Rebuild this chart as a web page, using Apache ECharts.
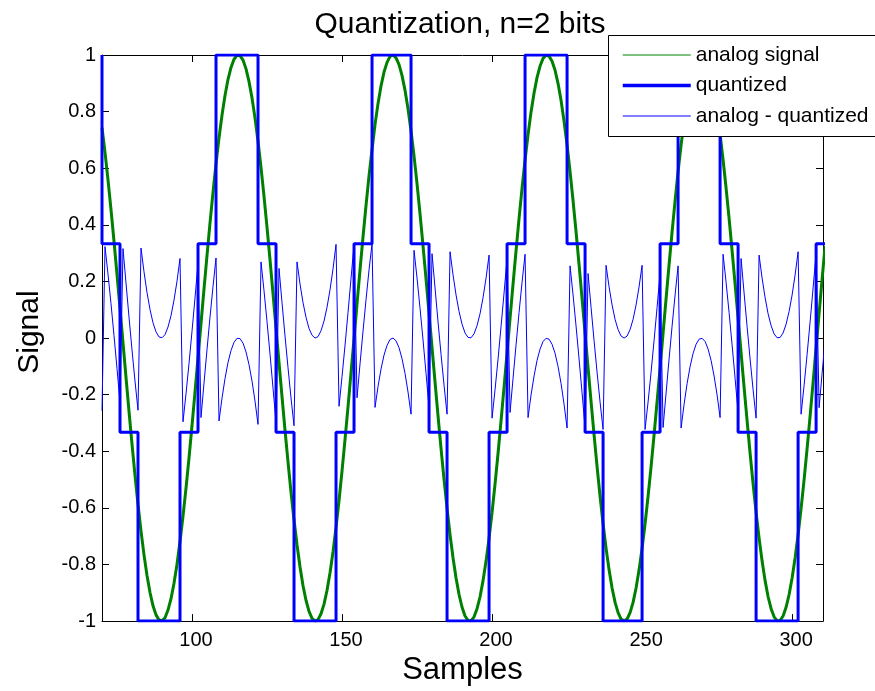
<!DOCTYPE html>
<html>
<head>
<meta charset="utf-8">
<title>Quantization, n=2 bits</title>
<script src="https://cdn.jsdelivr.net/npm/echarts@6/dist/echarts.min.js"></script>
<style>
  html, body { margin: 0; padding: 0; background: #fff; }
  #chart { width: 875px; height: 691px; }
</style>
</head>
<body>
<div id="chart"></div>
<script>
// Sample indices on the horizontal axis
const samples = [
  70, 71, 72, 73, 74, 75, 76, 77, 78, 79,
  80, 81, 82, 83, 84, 85, 86, 87, 88, 89,
  90, 91, 92, 93, 94, 95, 96, 97, 98, 99,
  100, 101, 102, 103, 104, 105, 106, 107, 108, 109,
  110, 111, 112, 113, 114, 115, 116, 117, 118, 119,
  120, 121, 122, 123, 124, 125, 126, 127, 128, 129,
  130, 131, 132, 133, 134, 135, 136, 137, 138, 139,
  140, 141, 142, 143, 144, 145, 146, 147, 148, 149,
  150, 151, 152, 153, 154, 155, 156, 157, 158, 159,
  160, 161, 162, 163, 164, 165, 166, 167, 168, 169,
  170, 171, 172, 173, 174, 175, 176, 177, 178, 179,
  180, 181, 182, 183, 184, 185, 186, 187, 188, 189,
  190, 191, 192, 193, 194, 195, 196, 197, 198, 199,
  200, 201, 202, 203, 204, 205, 206, 207, 208, 209,
  210, 211, 212, 213, 214, 215, 216, 217, 218, 219,
  220, 221, 222, 223, 224, 225, 226, 227, 228, 229,
  230, 231, 232, 233, 234, 235, 236, 237, 238, 239,
  240, 241, 242, 243, 244, 245, 246, 247, 248, 249,
  250, 251, 252, 253, 254, 255, 256, 257, 258, 259,
  260, 261, 262, 263, 264, 265, 266, 267, 268, 269,
  270, 271, 272, 273, 274, 275, 276, 277, 278, 279,
  280, 281, 282, 283, 284, 285, 286, 287, 288, 289,
  290, 291, 292, 293, 294, 295, 296, 297, 298, 299,
  300, 301, 302, 303, 304, 305, 306, 307, 308, 309,
  310, 311
];

// Analog signal value at each sample
const analog = [
  0.743, 0.656, 0.559, 0.454, 0.342, 0.225, 0.105, -0.017, -0.139, -0.259,
  -0.375, -0.485, -0.588, -0.682, -0.766, -0.839, -0.899, -0.946, -0.978, -0.996,
  -0.999, -0.988, -0.961, -0.921, -0.866, -0.799, -0.719, -0.629, -0.530, -0.423,
  -0.309, -0.191, -0.070, 0.052, 0.174, 0.292, 0.407, 0.515, 0.616, 0.707,
  0.788, 0.857, 0.914, 0.956, 0.985, 0.999, 0.998, 0.982, 0.951, 0.906,
  0.848, 0.777, 0.695, 0.602, 0.500, 0.391, 0.276, 0.156, 0.035, -0.087,
  -0.208, -0.326, -0.438, -0.545, -0.643, -0.731, -0.809, -0.875, -0.927, -0.966,
  -0.990, -1.000, -0.995, -0.974, -0.940, -0.891, -0.829, -0.755, -0.669, -0.574,
  -0.469, -0.358, -0.242, -0.122, -0.003, 0.122, 0.242, 0.358, 0.469, 0.574,
  0.666, 0.755, 0.829, 0.891, 0.940, 0.974, 0.995, 1.000, 0.990, 0.966,
  0.927, 0.875, 0.809, 0.731, 0.643, 0.545, 0.438, 0.326, 0.208, 0.087,
  -0.035, -0.156, -0.276, -0.391, -0.500, -0.602, -0.695, -0.777, -0.848, -0.906,
  -0.951, -0.982, -0.998, -0.999, -0.985, -0.956, -0.914, -0.857, -0.788, -0.707,
  -0.616, -0.515, -0.407, -0.292, -0.174, -0.052, 0.070, 0.191, 0.309, 0.423,
  0.530, 0.629, 0.719, 0.799, 0.866, 0.921, 0.961, 0.988, 0.999, 0.996,
  0.978, 0.946, 0.899, 0.839, 0.766, 0.682, 0.588, 0.485, 0.375, 0.259,
  0.139, 0.017, -0.105, -0.225, -0.342, -0.454, -0.559, -0.656, -0.743, -0.819,
  -0.883, -0.934, -0.970, -0.993, -1.000, -0.993, -0.970, -0.934, -0.883, -0.819,
  -0.743, -0.656, -0.559, -0.454, -0.342, -0.225, -0.105, 0.017, 0.139, 0.259,
  0.375, 0.485, 0.588, 0.682, 0.766, 0.839, 0.899, 0.946, 0.978, 0.996,
  0.999, 0.988, 0.961, 0.921, 0.866, 0.799, 0.719, 0.629, 0.530, 0.423,
  0.309, 0.191, 0.070, -0.052, -0.174, -0.292, -0.407, -0.515, -0.616, -0.707,
  -0.788, -0.857, -0.914, -0.956, -0.985, -0.999, -0.998, -0.982, -0.951, -0.906,
  -0.848, -0.777, -0.695, -0.602, -0.500, -0.391, -0.276, -0.156, -0.035, 0.087,
  0.208, 0.326
];

// 2-bit quantizer output (levels -1, -1/3, 1/3, 1)
const quantized = [
  1, 0.333, 0.333, 0.333, 0.333, 0.333, 0.333, -0.333, -0.333, -0.333,
  -0.333, -0.333, -0.333, -1, -1, -1, -1, -1, -1, -1,
  -1, -1, -1, -1, -1, -1, -1, -0.333, -0.333, -0.333,
  -0.333, -0.333, -0.333, 0.333, 0.333, 0.333, 0.333, 0.333, 0.333, 1,
  1, 1, 1, 1, 1, 1, 1, 1, 1, 1,
  1, 1, 1, 0.333, 0.333, 0.333, 0.333, 0.333, 0.333, -0.333,
  -0.333, -0.333, -0.333, -0.333, -0.333, -1, -1, -1, -1, -1,
  -1, -1, -1, -1, -1, -1, -1, -1, -1, -0.333,
  -0.333, -0.333, -0.333, -0.333, -0.333, 0.333, 0.333, 0.333, 0.333, 0.333,
  0.333, 1, 1, 1, 1, 1, 1, 1, 1, 1,
  1, 1, 1, 1, 0.333, 0.333, 0.333, 0.333, 0.333, 0.333,
  -0.333, -0.333, -0.333, -0.333, -0.333, -0.333, -1, -1, -1, -1,
  -1, -1, -1, -1, -1, -1, -1, -1, -1, -1,
  -0.333, -0.333, -0.333, -0.333, -0.333, -0.333, 0.333, 0.333, 0.333, 0.333,
  0.333, 0.333, 1, 1, 1, 1, 1, 1, 1, 1,
  1, 1, 1, 1, 1, 1, 0.333, 0.333, 0.333, 0.333,
  0.333, 0.333, -0.333, -0.333, -0.333, -0.333, -0.333, -0.333, -1, -1,
  -1, -1, -1, -1, -1, -1, -1, -1, -1, -1,
  -1, -0.333, -0.333, -0.333, -0.333, -0.333, -0.333, 0.333, 0.333, 0.333,
  0.333, 0.333, 0.333, 1, 1, 1, 1, 1, 1, 1,
  1, 1, 1, 1, 1, 1, 1, 0.333, 0.333, 0.333,
  0.333, 0.333, 0.333, -0.333, -0.333, -0.333, -0.333, -0.333, -0.333, -1,
  -1, -1, -1, -1, -1, -1, -1, -1, -1, -1,
  -1, -1, -1, -0.333, -0.333, -0.333, -0.333, -0.333, -0.333, 0.333,
  0.333, 0.333
];

// Quantization error (analog - quantized) at each sample
const quantError = [
  -0.257, 0.323, 0.226, 0.121, 0.009, -0.108, -0.228, 0.316, 0.194, 0.074,
  -0.042, -0.152, -0.255, 0.318, 0.234, 0.161, 0.101, 0.054, 0.022, 0.004,
  0.001, 0.012, 0.039, 0.079, 0.134, 0.201, 0.281, -0.296, -0.197, -0.090,
  0.024, 0.142, 0.263, -0.281, -0.159, -0.041, 0.074, 0.182, 0.283, -0.293,
  -0.212, -0.143, -0.086, -0.044, -0.015, -0.001, -0.002, -0.018, -0.049, -0.094,
  -0.152, -0.223, -0.305, 0.269, 0.167, 0.058, -0.057, -0.177, -0.298, 0.246,
  0.125, 0.007, -0.105, -0.212, -0.310, 0.269, 0.191, 0.125, 0.073, 0.034,
  0.010, 0.000, 0.005, 0.026, 0.060, 0.109, 0.171, 0.245, 0.331, -0.241,
  -0.136, -0.025, 0.091, 0.211, 0.330, -0.211, -0.091, 0.025, 0.136, 0.241,
  0.333, -0.245, -0.171, -0.109, -0.060, -0.026, -0.005, 0.000, -0.010, -0.034,
  -0.073, -0.125, -0.191, -0.269, 0.310, 0.212, 0.105, -0.007, -0.125, -0.246,
  0.298, 0.177, 0.057, -0.058, -0.167, -0.269, 0.305, 0.223, 0.152, 0.094,
  0.049, 0.018, 0.002, 0.001, 0.015, 0.044, 0.086, 0.143, 0.212, 0.293,
  -0.283, -0.182, -0.074, 0.041, 0.159, 0.281, -0.263, -0.142, -0.024, 0.090,
  0.197, 0.296, -0.281, -0.201, -0.134, -0.079, -0.039, -0.012, -0.001, -0.004,
  -0.022, -0.054, -0.101, -0.161, -0.234, -0.318, 0.255, 0.152, 0.042, -0.074,
  -0.194, -0.316, 0.228, 0.108, -0.009, -0.121, -0.226, -0.323, 0.257, 0.181,
  0.117, 0.066, 0.030, 0.007, 0.000, 0.007, 0.030, 0.066, 0.117, 0.181,
  0.257, -0.323, -0.226, -0.121, -0.009, 0.108, 0.228, -0.316, -0.194, -0.074,
  0.042, 0.152, 0.255, -0.318, -0.234, -0.161, -0.101, -0.054, -0.022, -0.004,
  -0.001, -0.012, -0.039, -0.079, -0.134, -0.201, -0.281, 0.296, 0.197, 0.090,
  -0.024, -0.142, -0.263, 0.281, 0.159, 0.041, -0.074, -0.182, -0.283, 0.293,
  0.212, 0.143, 0.086, 0.044, 0.015, 0.001, 0.002, 0.018, 0.049, 0.094,
  0.152, 0.223, 0.305, -0.269, -0.167, -0.058, 0.057, 0.177, 0.298, -0.246,
  -0.125, -0.007
];

// Axis tick positions
const xTicks = [100, 150, 200, 250, 300];
const yTicks = [-1, -0.8, -0.6, -0.4, -0.2, 0, 0.2, 0.4, 0.6, 0.8, 1];

const FONT = '"Liberation Sans", Arial, Helvetica, sans-serif';
const pairs = (ys) => samples.map((x, i) => [x, ys[i]]);

const frameAxis = {
  axisLine: { show: true, onZero: false, lineStyle: { color: '#000', width: 1 } },
  splitLine: { show: false }
};

const chart = echarts.init(document.getElementById('chart'), null, { renderer: 'canvas' });

chart.setOption({
  animation: false,
  backgroundColor: '#fff',
  title: {
    text: 'Quantization, n=2 bits',
    left: 455,
    top: 5,
    textAlign: 'center',
    textStyle: { fontFamily: FONT, fontSize: 30, fontWeight: 'normal', color: '#000' }
  },
  grid: { left: 102, right: 52, top: 55, bottom: 68 },
  // Legend frame: runs off the right edge of the figure
  graphic: [{
    type: 'rect', z: 9, silent: true,
    shape: { x: 608.5, y: 35.5, width: 320, height: 101 },
    style: { fill: '#fff', stroke: '#000', lineWidth: 1 }
  }],
  legend: {
    z: 10,
    orient: 'vertical',
    left: 608,
    top: 35,
    itemWidth: 68,
    itemHeight: 14,
    itemGap: 9.5,
    padding: [9.5, 20, 10.5, 13],
    selectedMode: false,
    itemStyle: { opacity: 0 },
    textStyle: { fontFamily: FONT, fontSize: 21, color: '#000', lineHeight: 21 },
    data: [
      { name: 'analog signal', lineStyle: { color: '#008000', width: 1 } },
      { name: 'quantized', lineStyle: { color: '#0000ff', width: 3.5 } },
      { name: 'analog - quantized', lineStyle: { color: '#0000ff', width: 1 } }
    ]
  },
  xAxis: [
    Object.assign({}, frameAxis, {
      type: 'value', position: 'bottom', min: 70, max: 310.3,
      axisTick: { show: true, inside: true, length: 7, customValues: xTicks, lineStyle: { color: '#000' } },
      axisLabel: { show: true, customValues: xTicks, margin: 9, padding: [0, 0, 0, 8],
                   fontFamily: FONT, fontSize: 20, color: '#000' },
      name: 'Samples', nameLocation: 'middle', nameGap: 30,
      nameTextStyle: { fontFamily: FONT, fontSize: 31, color: '#000' }
    }),
    Object.assign({}, frameAxis, {
      type: 'value', position: 'top', min: 70, max: 310.3,
      axisTick: { show: true, inside: true, length: 7, customValues: xTicks, lineStyle: { color: '#000' } },
      axisLabel: { show: false }
    })
  ],
  yAxis: [
    Object.assign({}, frameAxis, {
      type: 'value', position: 'left', min: -1, max: 1, interval: 0.2,
      axisTick: { show: true, inside: true, length: 7, lineStyle: { color: '#000' } },
      axisLabel: { show: true, customValues: yTicks, margin: 6, fontFamily: FONT, fontSize: 20, color: '#000' },
      name: 'Signal', nameLocation: 'middle', nameGap: 57, nameRotate: 90,
      nameTextStyle: { fontFamily: FONT, fontSize: 30, color: '#000', padding: [0, 0, 0, 12] }
    }),
    Object.assign({}, frameAxis, {
      type: 'value', position: 'right', min: -1, max: 1, interval: 0.2,
      axisTick: { show: true, inside: true, length: 7, lineStyle: { color: '#000' } },
      axisLabel: { show: false }
    })
  ],
  series: [
    {
      name: 'analog signal', type: 'line', data: pairs(analog),
      showSymbol: false, symbol: 'none', clip: true,
      lineStyle: { color: '#008000', width: 3 }, itemStyle: { color: '#008000' },
      emphasis: { disabled: true }, z: 2
    },
    {
      name: 'quantized', type: 'line', data: pairs(quantized), step: 'start',
      showSymbol: false, symbol: 'none', clip: true,
      lineStyle: { color: '#0000ff', width: 3 }, itemStyle: { color: '#0000ff' },
      emphasis: { disabled: true }, z: 3
    },
    {
      name: 'analog - quantized', type: 'line', data: pairs(quantError),
      showSymbol: false, symbol: 'none', clip: true,
      lineStyle: { color: '#0000ff', width: 1 }, itemStyle: { color: '#0000ff' },
      emphasis: { disabled: true }, z: 4
    }
  ]
});
</script>
</body>
</html>
